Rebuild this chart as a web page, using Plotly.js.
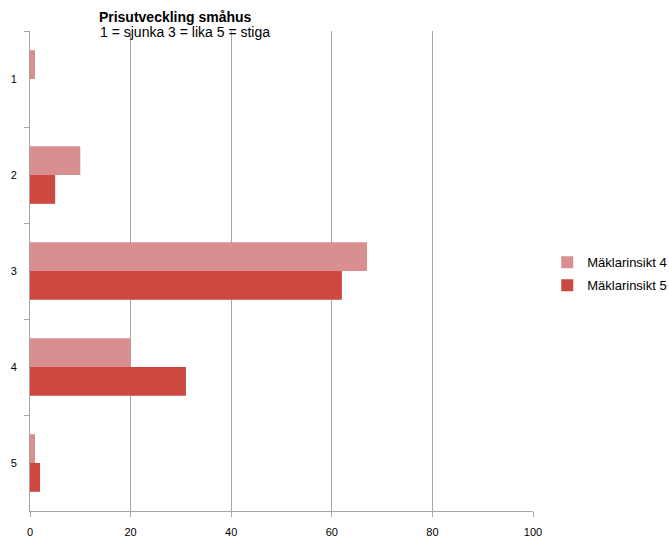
<!DOCTYPE html>
<html>
<head>
<meta charset="utf-8">
<script src="https://cdn.plot.ly/plotly-3.0.1.min.js"></script>
<style>
  html, body { margin: 0; padding: 0; background: #ffffff; }
  #chart { width: 669px; height: 537px; }
</style>
</head>
<body>
<div id="chart"></div>
<script>
// Answer categories (1 = sjunka, 3 = lika, 5 = stiga)
const categories = ['1', '2', '3', '4', '5'];
// Share of answers per survey round
const maklarinsikt4 = [1, 10, 67, 20, 1];
const maklarinsikt5 = [0, 5, 62, 31, 2];
const xTicks = [0, 20, 40, 60, 80, 100];

const FONT = 'Liberation Sans, Arial, sans-serif';

const traces = [
  {
    type: 'bar',
    orientation: 'h',
    name: 'Mäklarinsikt 4',
    legendgroup: 'g4',
    y: categories,
    x: maklarinsikt4,
    marker: { color: '#d98e90', line: { width: 0 } },
    hoverinfo: 'x+name'
  },
  {
    type: 'bar',
    orientation: 'h',
    name: 'Mäklarinsikt 5',
    legendgroup: 'g5',
    y: categories,
    x: maklarinsikt5,
    marker: { color: '#cd4841', line: { width: 0 } },
    hoverinfo: 'x+name'
  }
];

const layout = {
  width: 669,
  height: 537,
  margin: { l: 30, r: 136, t: 31, b: 26, pad: 0 },
  paper_bgcolor: '#ffffff',
  plot_bgcolor: '#ffffff',
  font: { family: FONT, size: 12, color: '#000000' },
  barmode: 'group',
  bargap: 0.4,
  bargroupgap: 0,
  title: {
    text: '<b>Prisutveckling småhus</b>',
    font: { family: FONT, size: 14, color: '#000000' },
    xref: 'paper',
    x: 0.137,
    xanchor: 'left',
    yref: 'container',
    y: 0.968,
    yanchor: 'middle'
  },
  annotations: [
    {
      text: '1 = sjunka 3 = lika 5 = stiga',
      xref: 'paper',
      x: 0.137,
      xanchor: 'left',
      yref: 'paper',
      y: 0.998,
      yanchor: 'middle',
      showarrow: false,
      borderpad: 0,
      font: { family: FONT, size: 14, color: '#000000' }
    }
  ],
  xaxis: {
    range: [0, 100],
    tickvals: xTicks,
    ticktext: xTicks.map(String),
    showgrid: true,
    gridcolor: '#a6a6a6',
    gridwidth: 1,
    zeroline: false,
    showline: true,
    linecolor: '#a6a6a6',
    linewidth: 1,
    ticks: 'outside',
    ticklen: 5,
    tickcolor: '#a6a6a6',
    ticklabelstandoff: 6,
    tickfont: { family: FONT, size: 11, color: '#000000' },
    fixedrange: true
  },
  yaxis: {
    type: 'category',
    autorange: 'reversed',
    showgrid: false,
    zeroline: false,
    showline: true,
    linecolor: '#a6a6a6',
    linewidth: 1,
    ticks: 'outside',
    tickson: 'boundaries',
    ticklen: 5,
    tickcolor: '#a6a6a6',
    ticklabelstandoff: 10,
    tickfont: { family: FONT, size: 11, color: '#000000' },
    fixedrange: true
  },
  showlegend: true,
  legend: {
    xref: 'container',
    x: 0.818,
    xanchor: 'left',
    yref: 'container',
    y: 0.49,
    yanchor: 'middle',
    traceorder: 'grouped',
    font: { family: FONT, size: 13, color: '#000000' },
    itemwidth: 30,
    tracegroupgap: 3,
    bgcolor: 'rgba(0,0,0,0)'
  }
};

Plotly.newPlot('chart', traces, layout, { displayModeBar: false, staticPlot: true });
</script>
</body>
</html>
